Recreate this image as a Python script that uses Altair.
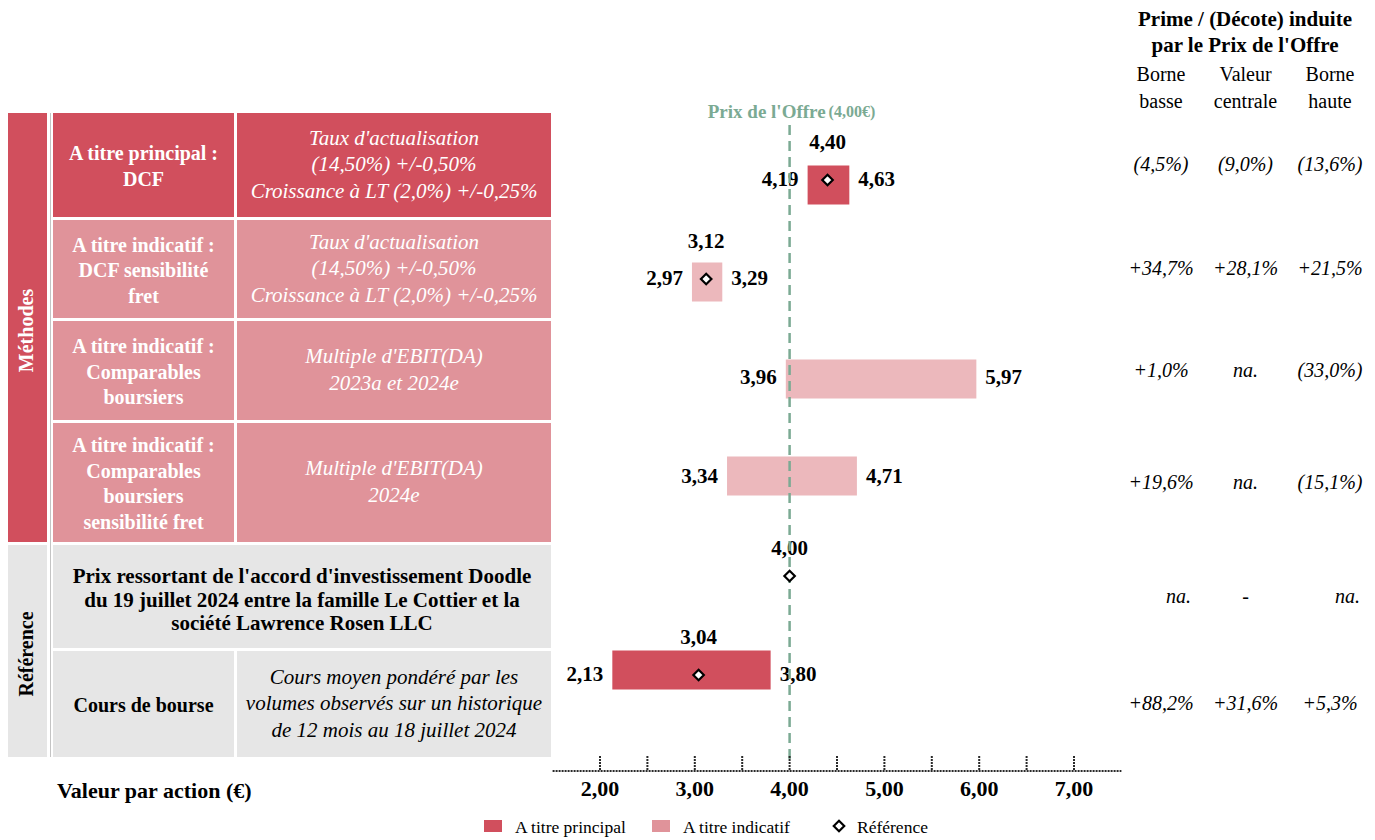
import altair as alt
import pandas as pd

# ---------------- data ----------------
row_ids = [0, 1, 2, 3, 4, 5]
row_kind = ["principal", "indicatif", "indicatif", "indicatif", "reference", "reference"]
method_labels = [
    "A titre principal :\nDCF",
    "A titre indicatif :\nDCF sensibilité\nfret",
    "A titre indicatif :\nComparables\nboursiers",
    "A titre indicatif :\nComparables\nboursiers\nsensibilité fret",
    "Prix ressortant de l'accord d'investissement Doodle\ndu 19 juillet 2024 entre la famille Le Cottier et la\nsociété Lawrence Rosen LLC",
    "Cours de bourse",
]
method_details = [
    "Taux d'actualisation\n(14,50%) +/-0,50%\nCroissance à LT (2,0%) +/-0,25%",
    "Taux d'actualisation\n(14,50%) +/-0,50%\nCroissance à LT (2,0%) +/-0,25%",
    "Multiple d'EBIT(DA)\n2023a et 2024e",
    "Multiple d'EBIT(DA)\n2024e",
    "",
    "Cours moyen pondéré par les\nvolumes observés sur un historique\nde 12 mois au 18 juillet 2024",
]
groups = ["Méthodes", "Référence"]
group_rows = [(0, 3), (4, 5)]
bar_type = ["principal", "indicatif", "indicatif", "indicatif", None, "principal"]
val_low = [4.19, 2.97, 3.96, 3.34, None, 2.13]
val_mid = [4.40, 3.12, None, None, 4.00, 3.04]
val_high = [4.63, 3.29, 5.97, 4.71, None, 3.80]
offer_price = 4.00
prime_header = "Prime / (Décote) induite\npar le Prix de l'Offre"
prime_cols = ["Borne\nbasse", "Valeur\ncentrale", "Borne\nhaute"]
prime_basse = ["(4,5%)", "+34,7%", "+1,0%", "+19,6%", "na.", "+88,2%"]
prime_centrale = ["(9,0%)", "+28,1%", "na.", "na.", "-", "+31,6%"]
prime_haute = ["(13,6%)", "+21,5%", "(33,0%)", "(15,1%)", "na.", "+5,3%"]
axis_ticks = [2.0, 2.5, 3.0, 3.5, 4.0, 4.5, 5.0, 5.5, 6.0, 6.5, 7.0]
axis_label_values = [2.0, 3.0, 4.0, 5.0, 6.0, 7.0]
axis_title = "Valeur par action (€)"
legend_items = ["A titre principal", "A titre indicatif", "Référence"]


def fmt(v):
    return None if v is None else f"{v:.2f}".replace(".", ",")


# ---------------- layout / style ----------------
W, H = 1359, 829
FONT = "Liberation Serif"
C_PRIN = "#D14F5D"
C_IND_CELL = "#E0939A"
C_IND_BAR = "#ECB8BC"
C_REF = "#E6E6E6"
C_OFFER = "#7BAA93"
CELL_FILL = {"principal": C_PRIN, "indicatif": C_IND_CELL, "reference": C_REF}
CELL_TEXT = {"principal": "white", "indicatif": "white", "reference": "black"}
GROUP_FILL = {"Méthodes": C_PRIN, "Référence": C_REF}
GROUP_TEXT = {"Méthodes": "white", "Référence": "black"}
COL1 = (7, 47)
COL2 = (53, 234)
COL3 = (237, 551)
ROW_EDGES = [(113, 217), (220, 318), (321, 420), (423, 542), (545, 648), (651, 757)]
LH_BOLD, LH_ITAL, LH_MERGED, LH_HEAD, LH_SUB = 25.5, 26.5, 23.5, 26, 27

LX = alt.Scale(domain=[8, 8 + W], range=[0, W], nice=False, zero=False)
LY = alt.Scale(domain=[8, 8 + H], range=[0, H], nice=False, zero=False)
VX = alt.Scale(domain=[1.5, 7.5], range=[544.6, 1113.4], nice=False, zero=False)
RY = alt.Scale(domain=[0, 5], range=[172, 667], nice=False, zero=False)
PX = alt.Scale(type="point", domain=prime_cols, range=[1153, 1322], padding=0)


def block_top(center, text, lh):
    # y of the first line so that a multi-line block is centred on `center`
    return center - (text.count("\n")) * lh / 2


# ---------------- tables built from the arrays ----------------
cells, bold_txt, ital_txt, merged_txt = [], [], [], []
for i in row_ids:
    y0, y1 = ROW_EDGES[i]
    yc = (y0 + y1) / 2
    fill = CELL_FILL[row_kind[i]]
    tcol = CELL_TEXT[row_kind[i]]
    if method_details[i]:
        cells.append(dict(x0=COL2[0], x1=COL2[1], y0=y0, y1=y1, fill=fill))
        cells.append(dict(x0=COL3[0], x1=COL3[1], y0=y0, y1=y1, fill=fill))
        bold_txt.append(dict(x=(COL2[0] + COL2[1]) / 2, y=block_top(yc + 2, method_labels[i], LH_BOLD),
                             t=method_labels[i], c=tcol))
        ital_txt.append(dict(x=(COL3[0] + COL3[1]) / 2, y=block_top(yc, method_details[i], LH_ITAL),
                             t=method_details[i], c=tcol))
    else:
        cells.append(dict(x0=COL2[0], x1=COL3[1], y0=y0, y1=y1, fill=fill))
        merged_txt.append(dict(x=(COL2[0] + COL3[1]) / 2, y=block_top(yc + 4, method_labels[i], LH_MERGED),
                               t=method_labels[i], c=tcol))
grp_txt = []
for g, (a, b) in zip(groups, group_rows):
    y0, y1 = ROW_EDGES[a][0], ROW_EDGES[b][1]
    cells.append(dict(x0=COL1[0], x1=COL1[1], y0=y0, y1=y1, fill=GROUP_FILL[g]))
    grp_txt.append(dict(x=(COL1[0] + COL1[1]) / 2, y=(y0 + y1) / 2 + 3, t=g, c=GROUP_TEXT[g]))

cells_df = pd.DataFrame(cells)
bars_df = pd.DataFrame({
    "row": row_ids, "kind": bar_type, "low": val_low, "mid": val_mid, "high": val_high,
    "low_lbl": [fmt(v) for v in val_low], "mid_lbl": [fmt(v) for v in val_mid],
    "high_lbl": [fmt(v) for v in val_high],
})

prime_rows = []
for i in row_ids:
    yc = (ROW_EDGES[i][0] + ROW_EDGES[i][1]) / 2
    for c, vals in zip(prime_cols, [prime_basse, prime_centrale, prime_haute]):
        prime_rows.append(dict(col=c, y=yc, t=vals[i], row=i))
prime_df = pd.DataFrame(prime_rows)


def lx(f):
    return alt.X(f, scale=LX, axis=None)


def ly(f):
    return alt.Y(f, scale=LY, axis=None)


layers = []

# table cells
layers.append(alt.Chart(cells_df).mark_rect().encode(
    x=lx("x0:Q"), x2="x1:Q", y=ly("y0:Q"), y2="y1:Q", fill=alt.Fill("fill:N", scale=None)))
layers.append(alt.Chart(pd.DataFrame({"x": [50.5], "y0": [113], "y1": [757]})).mark_rule(
    color="#C4C4C4", strokeWidth=1).encode(x=lx("x:Q"), y=ly("y0:Q"), y2="y1:Q"))
layers.append(alt.Chart(pd.DataFrame(bold_txt)).mark_text(
    font=FONT, fontSize=20, fontWeight="bold", lineBreak="\n", lineHeight=LH_BOLD, baseline="middle").encode(
    x=lx("x:Q"), y=ly("y:Q"), text="t:N", color=alt.Color("c:N", scale=None)))
layers.append(alt.Chart(pd.DataFrame(ital_txt)).mark_text(
    font=FONT, fontSize=21, fontStyle="italic", lineBreak="\n", lineHeight=LH_ITAL, baseline="middle").encode(
    x=lx("x:Q"), y=ly("y:Q"), text="t:N", color=alt.Color("c:N", scale=None)))
layers.append(alt.Chart(pd.DataFrame(merged_txt)).mark_text(
    font=FONT, fontSize=21, fontWeight="bold", lineBreak="\n", lineHeight=LH_MERGED, baseline="middle").encode(
    x=lx("x:Q"), y=ly("y:Q"), text="t:N", color=alt.Color("c:N", scale=None)))
layers.append(alt.Chart(pd.DataFrame(grp_txt)).mark_text(
    font=FONT, fontSize=20, fontWeight="bold", angle=270, baseline="middle").encode(
    x=lx("x:Q"), y=ly("y:Q"), text="t:N", color=alt.Color("c:N", scale=None)))

# bars
layers.append(alt.Chart(bars_df).transform_filter("isValid(datum.low)").mark_bar(
    size=39, orient="horizontal").encode(
    x=alt.X("low:Q", scale=VX, axis=None), x2="high:Q",
    y=alt.Y("row:Q", scale=RY, axis=None),
    color=alt.Color("kind:N", scale=alt.Scale(domain=["principal", "indicatif"],
                                               range=[C_PRIN, C_IND_BAR]), legend=None)))
# value labels
lblkw = dict(font=FONT, fontSize=21, fontWeight="bold", color="black", baseline="middle")
layers.append(alt.Chart(bars_df).transform_filter("isValid(datum.low)").mark_text(
    align="right", dx=-9, **lblkw).encode(
    x=alt.X("low:Q", scale=VX, axis=None), y=alt.Y("row:Q", scale=RY, axis=None), text="low_lbl:N"))
layers.append(alt.Chart(bars_df).transform_filter("isValid(datum.high)").mark_text(
    align="left", dx=9, **lblkw).encode(
    x=alt.X("high:Q", scale=VX, axis=None), y=alt.Y("row:Q", scale=RY, axis=None), text="high_lbl:N"))
layers.append(alt.Chart(bars_df).transform_filter("isValid(datum.mid) && isValid(datum.low)").mark_text(
    align="center", dy=-37, **lblkw).encode(
    x=alt.X("mid:Q", scale=VX, axis=None), y=alt.Y("row:Q", scale=RY, axis=None), text="mid_lbl:N"))
layers.append(alt.Chart(bars_df).transform_filter("isValid(datum.mid) && !isValid(datum.low)").mark_text(
    align="center", dy=-27, **lblkw).encode(
    x=alt.X("mid:Q", scale=VX, axis=None), y=alt.Y("row:Q", scale=RY, axis=None), text="mid_lbl:N"))

# offer price line + title
offer_df = pd.DataFrame({"v": [offer_price], "y0": [125], "y1": [762],
                         "t1": ["Prix de l'Offre"],
                         "t2": ["(" + fmt(offer_price) + "€)"], "ty": [112]})
layers.append(alt.Chart(offer_df).mark_rule(color=C_OFFER, strokeWidth=2.5, strokeDash=[10, 6]).encode(
    x=alt.X("v:Q", scale=VX, axis=None), y=ly("y0:Q"), y2="y1:Q"))
layers.append(alt.Chart(offer_df).mark_text(font=FONT, fontSize=19, fontWeight="bold", color=C_OFFER,
                                            align="right", dx=36, baseline="middle").encode(
    x=alt.X("v:Q", scale=VX, axis=None), y=ly("ty:Q"), text="t1:N"))
layers.append(alt.Chart(offer_df).mark_text(font=FONT, fontSize=16, fontWeight="bold", color=C_OFFER,
                                            align="left", dx=39, baseline="middle").encode(
    x=alt.X("v:Q", scale=VX, axis=None), y=ly("ty:Q"), text="t2:N"))

# diamonds
layers.append(alt.Chart(bars_df).transform_filter("isValid(datum.mid)").mark_point(
    shape="diamond", filled=True, fill="white", stroke="black", strokeWidth=2.2, size=110, opacity=1).encode(
    x=alt.X("mid:Q", scale=VX, axis=None), y=alt.Y("row:Q", scale=RY, axis=None)))

# axis
axis_df = pd.DataFrame({"a": [1.5], "b": [7.5], "y": [771]})
layers.append(alt.Chart(axis_df).mark_rule(color="#2A2A2A", strokeWidth=2, strokeDash=[2, 1]).encode(
    x=alt.X("a:Q", scale=VX, axis=None), x2="b:Q", y=ly("y:Q")))
ticks_df = pd.DataFrame({"v": axis_ticks, "y0": [756] * len(axis_ticks), "y1": [771] * len(axis_ticks)})
layers.append(alt.Chart(ticks_df).mark_rule(color="#2A2A2A", strokeWidth=2, strokeDash=[2, 1]).encode(
    x=alt.X("v:Q", scale=VX, axis=None), y=ly("y0:Q"), y2="y1:Q"))
alab_df = pd.DataFrame({"v": axis_label_values, "t": [fmt(v) for v in axis_label_values],
                        "y": [789] * len(axis_label_values)})
layers.append(alt.Chart(alab_df).mark_text(font=FONT, fontSize=22, fontWeight="bold", color="black",
                                           baseline="middle").encode(
    x=alt.X("v:Q", scale=VX, axis=None), y=ly("y:Q"), text="t:N"))
layers.append(alt.Chart(pd.DataFrame({"x": [57], "y": [791], "t": [axis_title]})).mark_text(
    font=FONT, fontSize=22, fontWeight="bold", color="black", align="left", baseline="middle").encode(
    x=lx("x:Q"), y=ly("y:Q"), text="t:N"))

# right table
layers.append(alt.Chart(pd.DataFrame({"x": [1245], "y": [block_top(33, prime_header, LH_HEAD)],
                                      "t": [prime_header]})).mark_text(
    font=FONT, fontSize=21, fontWeight="bold", color="black", lineBreak="\n", lineHeight=LH_HEAD,
    baseline="middle").encode(x=lx("x:Q"), y=ly("y:Q"), text="t:N"))
layers.append(alt.Chart(pd.DataFrame({"col": prime_cols,
                                      "y": [block_top(88.5, c, LH_SUB) for c in prime_cols]})).mark_text(
    font=FONT, fontSize=20, color="black", lineBreak="\n", lineHeight=LH_SUB, baseline="middle").encode(
    x=alt.X("col:N", scale=PX, axis=None), y=ly("y:Q"), text="col:N"))
layers.append(alt.Chart(prime_df).transform_filter("datum.row != 4").mark_text(
    font=FONT, fontSize=20, fontStyle="italic", color="black", baseline="middle").encode(
    x=alt.X("col:N", scale=PX, axis=None), y=ly("y:Q"), text="t:N"))
centre_col = prime_cols[1].replace("\n", "\\n")
layers.append(alt.Chart(prime_df).transform_filter(
    "datum.row == 4 && datum.col != '" + centre_col + "'").mark_text(
    font=FONT, fontSize=20, fontStyle="italic", color="black", baseline="middle", align="right", dx=30).encode(
    x=alt.X("col:N", scale=PX, axis=None), y=ly("y:Q"), text="t:N"))
layers.append(alt.Chart(prime_df).transform_filter(
    "datum.row == 4 && datum.col == '" + centre_col + "'").mark_text(
    font=FONT, fontSize=20, fontStyle="italic", color="black", baseline="middle").encode(
    x=alt.X("col:N", scale=PX, axis=None), y=ly("y:Q"), text="t:N"))

# legend
leg_sw = pd.DataFrame({"x0": [484, 652], "x1": [502, 670], "y0": [820, 820], "y1": [832, 832],
                       "fill": [C_PRIN, C_IND_CELL]})
layers.append(alt.Chart(leg_sw).mark_rect().encode(
    x=lx("x0:Q"), x2="x1:Q", y=ly("y0:Q"), y2="y1:Q", fill=alt.Fill("fill:N", scale=None)))
layers.append(alt.Chart(pd.DataFrame({"x": [839], "y": [826]})).mark_point(
    shape="diamond", filled=True, fill="white", stroke="black", strokeWidth=2.2, size=110, opacity=1).encode(
    x=lx("x:Q"), y=ly("y:Q")))
layers.append(alt.Chart(pd.DataFrame({"x": [515, 683, 857], "y": [828] * 3, "t": legend_items})).mark_text(
    font=FONT, fontSize=17.5, color="black", align="left", baseline="middle").encode(
    x=lx("x:Q"), y=ly("y:Q"), text="t:N"))

chart = alt.layer(*layers).resolve_scale(
    x="independent", y="independent", color="independent", fill="independent"
).properties(width=W, height=H, padding=0, autosize="none").configure_view(strokeWidth=0)

chart.save("out.html", embed_options={"renderer": "svg", "actions": False})
